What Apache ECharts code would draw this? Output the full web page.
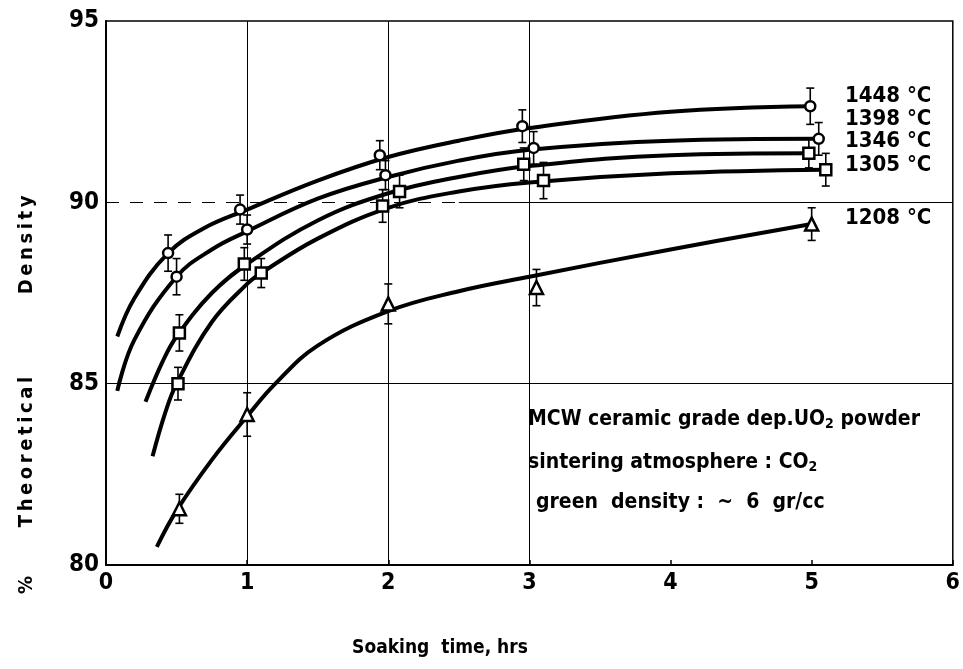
<!DOCTYPE html>
<html><head><meta charset="utf-8">
<script src="https://cdn.jsdelivr.net/npm/echarts@6/dist/echarts.min.js"></script>
<style>html,body{margin:0;padding:0;background:#fff}#c{width:963px;height:669px}</style>
</head><body><div id="c"></div>
<script>
// ---- tick labels ----
const xTickValues = [0, 1, 2, 3, 4, 5, 6];
const yTickValues = [80, 85, 90, 95];
const seriesLabels = ['1448 °C', '1398 °C', '1346 °C', '1305 °C', '1208 °C'];

// ---- fitted curves ----
const curve1448X = [0.08, 0.2, 0.44, 0.7, 1.0, 1.5, 2.0, 2.5, 3.0, 4.0, 5.0];
const curve1448Y = [86.3, 87.35, 88.6, 89.3, 89.8, 90.6, 91.25, 91.7, 92.05, 92.5, 92.65];
const curve1398X = [0.08, 0.2, 0.5, 0.75, 1.0, 1.5, 2.0, 2.5, 3.0, 4.0, 5.05];
const curve1398Y = [84.8, 86.2, 87.95, 88.7, 89.2, 90.1, 90.7, 91.15, 91.45, 91.7, 91.75];
const curve1346X = [0.28, 0.4, 0.5, 0.75, 1.0, 1.5, 2.0, 2.5, 3.0, 4.0, 5.0];
const curve1346Y = [84.5, 85.6, 86.3, 87.5, 88.3, 89.5, 90.25, 90.7, 91.0, 91.3, 91.35];
const curve1305X = [0.33, 0.42, 0.5, 0.75, 1.0, 1.1, 1.5, 2.0, 2.5, 3.0, 4.0, 5.1];
const curve1305Y = [83.0, 84.2, 85.0, 86.7, 87.75, 88.05, 89.0, 89.85, 90.3, 90.55, 90.8, 90.9];
const curve1208X = [0.36, 0.5, 0.75, 1.0, 1.2, 1.5, 2.0, 2.5, 3.0, 4.0, 5.0];
const curve1208Y = [80.5, 81.5, 82.9, 84.1, 85.0, 86.05, 87.0, 87.55, 87.95, 88.7, 89.4];

// ---- measured points with error bars ----
const pts1448X = [0.44, 0.95, 1.94, 2.95, 4.99];
const pts1448Y = [88.6, 89.8, 91.3, 92.1, 92.65];
const err1448  = [0.5, 0.4, 0.4, 0.45, 0.5];
const pts1398X = [0.5, 1.0, 1.98, 3.03, 5.05];
const pts1398Y = [87.95, 89.25, 90.75, 91.5, 91.75];
const err1398  = [0.5, 0.4, 0.4, 0.45, 0.45];
const pts1346X = [0.52, 0.98, 2.08, 2.96, 4.98];
const pts1346Y = [86.4, 88.3, 90.3, 91.05, 91.35];
const err1346  = [0.5, 0.45, 0.45, 0.45, 0.4];
const pts1305X = [0.51, 1.1, 1.96, 3.1, 5.1];
const pts1305Y = [85.0, 88.05, 89.9, 90.6, 90.9];
const err1305  = [0.45, 0.4, 0.45, 0.5, 0.45];
const pts1208X = [0.52, 1.0, 2.0, 3.05, 5.0];
const pts1208Y = [81.55, 84.15, 87.2, 87.65, 89.4];
const err1208  = [0.4, 0.6, 0.55, 0.5, 0.45];

// ---- grid lines ----
const gridXs = [1, 2, 3];
const gridYsolid = [85];
const dashedY = 90, dashedEndX = 2.5;

const zip = (xs, ys) => xs.map((x, i) => [x, ys[i]]);
const FONT = "'DejaVu Sans Condensed','DejaVu Sans',sans-serif";
const TS = '\u2009';
const spaced = s => s.split('').join(TS);

function curve(xs, ys) {
  return { type: 'line', data: zip(xs, ys), smooth: 0.4, showSymbol: false,
    lineStyle: { color: '#000', width: 4 }, z: 3, silent: true };
}
function pts(xs, ys, symbol, size) {
  return { type: 'scatter', data: zip(xs, ys), symbol: symbol, symbolSize: size,
    itemStyle: { color: '#fff', borderColor: '#000', borderWidth: 2.5, opacity: 1 }, z: 6, silent: true };
}
function errs(xs, ys, es) {
  return { type: 'custom', z: 5, silent: true,
    data: xs.map((x, i) => [x, ys[i], es[i]]),
    renderItem: (params, api) => {
      const x = api.value(0), y = api.value(1), e = api.value(2);
      const t = api.coord([x, y + e]), b = api.coord([x, y - e]);
      const cap = 4, st = { stroke: '#000', lineWidth: 1.6 };
      return { type: 'group', children: [
        { type: 'line', shape: { x1: t[0], y1: t[1], x2: b[0], y2: b[1] }, style: st },
        { type: 'line', shape: { x1: t[0] - cap, y1: t[1], x2: t[0] + cap, y2: t[1] }, style: st },
        { type: 'line', shape: { x1: b[0] - cap, y1: b[1], x2: b[0] + cap, y2: b[1] }, style: st }
      ]};
    } };
}

const gridLineData = gridXs.map(v => ({ xAxis: v }))
  .concat(gridYsolid.map(v => ({ yAxis: v })))
  .concat([
    [{ coord: [0, dashedY], lineStyle: { type: [13, 11] } }, { coord: [dashedEndX, dashedY] }],
    [{ coord: [dashedEndX, dashedY] }, { coord: [6, dashedY] }]
  ]);

const labelFont = "bold 22px " + FONT;
const boxFont = "bold 21px " + FONT;
const sub = { s: { font: "bold 14px " + FONT, fill: '#000', padding: [10, 0, 0, 0] } };

const chart = echarts.init(document.getElementById('c'), null, { renderer: 'canvas' });
const option = {
  backgroundColor: '#fff',
  animation: false,
  grid: { left: 106, right: 6, top: 21, bottom: 104, show: true, borderColor: '#000', borderWidth: 1.5, backgroundColor: 'transparent' },
  xAxis: { type: 'value', min: 0, max: 6, interval: 1,
    axisLine: { lineStyle: { color: '#000', width: 2 } },
    axisTick: { inside: true, length: 5, lineStyle: { color: '#000', width: 1.5 } },
    splitLine: { show: false },
    axisLabel: { color: '#000', fontFamily: FONT, fontWeight: 'bold', fontSize: 23, margin: 7,
      formatter: v => xTickValues.indexOf(v) >= 0 ? String(v) : '' } },
  yAxis: { type: 'value', min: 80, max: 95, interval: 5,
    axisLine: { lineStyle: { color: '#000', width: 2 } },
    axisTick: { show: false },
    splitLine: { show: false },
    axisLabel: { color: '#000', fontFamily: FONT, fontWeight: 'bold', fontSize: 24, margin: 7,
      formatter: v => yTickValues.indexOf(v) >= 0 ? String(v) : '' } },
  series: [
    { type: 'line', data: [], silent: true, z: 1,
      markLine: { symbol: 'none', silent: true, label: { show: false }, animation: false,
        lineStyle: { color: '#000', width: 1, type: 'solid' }, data: gridLineData } },
    curve(curve1448X, curve1448Y), curve(curve1398X, curve1398Y), curve(curve1346X, curve1346Y),
    curve(curve1305X, curve1305Y), curve(curve1208X, curve1208Y),
    errs(pts1448X, pts1448Y, err1448), errs(pts1398X, pts1398Y, err1398), errs(pts1346X, pts1346Y, err1346),
    errs(pts1305X, pts1305Y, err1305), errs(pts1208X, pts1208Y, err1208),
    pts(pts1448X, pts1448Y, 'circle', 10), pts(pts1398X, pts1398Y, 'circle', 10),
    pts(pts1346X, pts1346Y, 'rect', 11), pts(pts1305X, pts1305Y, 'rect', 11),
    pts(pts1208X, pts1208Y, 'triangle', 13)
  ],
  graphic: [
    { type: 'text', left: 845, top: 85, style: { text: seriesLabels[0], font: labelFont, fill: '#000' } },
    { type: 'text', left: 845, top: 108, style: { text: seriesLabels[1], font: labelFont, fill: '#000' } },
    { type: 'text', left: 845, top: 130, style: { text: seriesLabels[2], font: labelFont, fill: '#000' } },
    { type: 'text', left: 845, top: 154, style: { text: seriesLabels[3], font: labelFont, fill: '#000' } },
    { type: 'text', left: 845, top: 207, style: { text: seriesLabels[4], font: labelFont, fill: '#000' } },
    { type: 'text', left: 528, top: 409, style: { text: 'MCW ceramic grade dep.UO{s|2} powder', font: boxFont, fill: '#000', rich: sub } },
    { type: 'text', left: 528, top: 452, style: { text: 'sintering atmosphere : CO{s|2}', font: boxFont, fill: '#000', rich: sub } },
    { type: 'text', left: 536, top: 492, style: { text: 'green  density :  ~  6  gr/cc', font: boxFont, fill: '#000' } },
    { type: 'text', x: 27, y: 245, rotation: Math.PI / 2, style: { text: spaced('Density'), font: "bold 20px " + FONT, fill: '#000', align: 'center', verticalAlign: 'middle' } },
    { type: 'text', x: 27, y: 452, rotation: Math.PI / 2, style: { text: spaced('Theoretical'), font: "bold 20px " + FONT, fill: '#000', align: 'center', verticalAlign: 'middle' } },
    { type: 'text', x: 27, y: 585, rotation: Math.PI / 2, style: { text: '%', font: "bold 20px " + FONT, fill: '#000', align: 'center', verticalAlign: 'middle' } },
    { type: 'text', x: 440, y: 648, style: { text: 'Soaking  time, hrs', font: "bold 19px " + FONT, fill: '#000', align: 'center', verticalAlign: 'middle' } }
  ]
};
chart.setOption(option);
</script>
</body></html>
